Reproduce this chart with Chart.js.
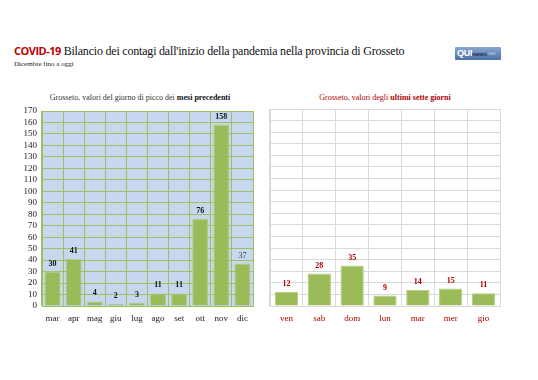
<!DOCTYPE html>
<html lang="it">
<head>
<meta charset="UTF-8">
<title>COVID-19 Grosseto</title>
<script src="https://cdn.jsdelivr.net/npm/chart.js"></script>
<style>
  body { margin:0; width:538px; height:380px; background:#fff; position:relative; overflow:hidden; font-family:"Liberation Serif", serif; }
  .abs { position:absolute; }
  #title { left:14px; top:43px; font-size:12px; letter-spacing:-0.2px; white-space:nowrap; color:#111; }
  #title b { font-family:"Open Sans", "Liberation Sans", sans-serif; font-size:11px; letter-spacing:-0.5px; color:#c00000; font-weight:700; }
  #sub { left:14px; top:60px; font-size:7px; color:#222; }
  #logo { left:455px; top:47px; width:46px; height:13px; background:linear-gradient(#8aa7d2,#4d70a8); border-radius:1px; font-family:"Liberation Sans",sans-serif; color:#fff; white-space:nowrap; overflow:hidden; display:flex; align-items:center; }
  #logo span { line-height:1; }
  #logo .q { font-weight:bold; font-size:9px; padding-left:2px; letter-spacing:-0.3px; }
  #logo .n { font-size:6px; color:#1d2f55; font-weight:bold; }
  #logo .t { font-size:5px; color:#c9d6ea; }
  .ct { font-size:8px; white-space:nowrap; }
  #t1 { left:0; width:280px; top:93px; text-align:center; color:#333; }
  #t1 b { color:#111; }
  #t2 { left:250px; width:270px; top:93px; text-align:center; color:#b00000; }
  #c1 { left:0; top:100px; }
  #c2 { left:265px; top:100px; }
</style>
</head>
<body>
<div id="title" class="abs"><b>COVID-19</b> Bilancio dei contagi dall'inizio della pandemia nella provincia di Grosseto</div>
<div id="sub" class="abs">Dicembre fino a oggi</div>
<div id="logo" class="abs"><span class="q">QUI</span><span class="n">news</span><span class="t">.net</span></div>
<div id="t1" class="abs ct">Grosseto, valori del giorno di picco dei <b>mesi precedenti</b></div>
<div id="t2" class="abs ct">Grosseto, valori degli <b>ultimi sette giorni</b></div>
<canvas id="c1" class="abs" width="265" height="240"></canvas>
<canvas id="c2" class="abs" width="273" height="240"></canvas>
<script>
// dati
const months = ['mar', 'apr', 'mag', 'giu', 'lug', 'ago', 'set', 'ott', 'nov', 'dic'];
const monthPeaks = [30, 41, 4, 2, 3, 11, 11, 76, 158, 37];
const days = ['ven', 'sab', 'dom', 'lun', 'mar', 'mer', 'gio'];
const lastWeek = [12, 28, 35, 9, 14, 15, 11];
const yMin = 0, yMax = 170, yStep = 10;

const serif = "'Liberation Serif', serif";

// etichette sopra le barre
const barLabels = {
    id: 'barLabels',
    afterDatasetsDraw(chart, args, opts) {
        const ctx = chart.ctx;
        const meta = chart.getDatasetMeta(0);
        const vals = chart.data.datasets[0].data;
        ctx.save();
        ctx.textAlign = 'center';
        ctx.textBaseline = 'middle';
        meta.data.forEach(function(bar, i) {
            const plain = opts.plain && opts.plain.includes(i);
            ctx.font = (plain ? '' : 'bold ') + '8px ' + serif;
            ctx.fillStyle = plain ? '#444' : opts.color;
            ctx.fillText(vals[i], bar.x, bar.y - 8);
        });
        ctx.restore();
    }
};

// sfondo azzurro dell'area del grafico
const plotBg = {
    id: 'plotBg',
    beforeDraw(chart, args, opts) {
        if (!opts.color) return;
        const a = chart.chartArea;
        chart.ctx.save();
        chart.ctx.fillStyle = opts.color;
        chart.ctx.fillRect(a.left, a.top, a.right - a.left, a.bottom - a.top);
        chart.ctx.restore();
    }
};

new Chart(document.getElementById('c1'), {
    type: 'bar',
    data: {
        labels: months,
        datasets: [{
            data: monthPeaks,
            backgroundColor: '#9bbb59',
            borderColor: '#b5cd85',
            borderWidth: 1,
            barPercentage: 0.76,
            categoryPercentage: 1
        }]
    },
    options: {
        responsive: false,
        animation: false,
        layout: { padding: { top: 11, right: 12, left: 0, bottom: 0 } },
        plugins: {
            legend: { display: false },
            tooltip: { enabled: false },
            barLabels: { color: '#111', plain: [9] },
            plotBg: { color: '#c6d7ef' }
        },
        scales: {
            x: {
                grid: { color: '#9fbf63', drawTicks: false },
                border: { color: '#9fbf63' },
                ticks: { color: '#222', font: { family: serif, size: 9 }, padding: 7, maxRotation: 0, autoSkip: false },
                afterFit(s) { s.height = 34; }
            },
            y: {
                min: yMin, max: yMax,
                grid: { color: '#9fbf63', drawTicks: false },
                border: { color: '#9fbf63' },
                ticks: { stepSize: yStep, autoSkip: false, color: '#222', font: { family: serif, size: 9 }, padding: 5 },
                afterFit(s) { s.width = 42; }
            }
        }
    },
    plugins: [plotBg, barLabels]
});

new Chart(document.getElementById('c2'), {
    type: 'bar',
    data: {
        labels: days,
        datasets: [{
            data: lastWeek,
            backgroundColor: '#9bbb59',
            borderColor: '#b5cd85',
            borderWidth: 1,
            barPercentage: 0.71,
            categoryPercentage: 1
        }]
    },
    options: {
        responsive: false,
        animation: false,
        layout: { padding: { top: 9, right: 38, left: 5, bottom: 0 } },
        plugins: {
            legend: { display: false },
            tooltip: { enabled: false },
            barLabels: { color: '#b00000' },
            plotBg: {}
        },
        scales: {
            x: {
                grid: { color: '#d9d9d9', drawTicks: false },
                border: { color: '#d9d9d9' },
                ticks: { color: '#b00000', font: { family: serif, size: 9 }, padding: 7, maxRotation: 0, autoSkip: false },
                afterFit(s) { s.height = 34; }
            },
            y: {
                min: yMin, max: yMax,
                grid: { color: '#d9d9d9', drawTicks: false },
                border: { color: '#d9d9d9' },
                ticks: { stepSize: yStep, display: false, autoSkip: false },
                afterFit(s) { s.width = 0; }
            }
        }
    },
    plugins: [plotBg, barLabels]
});
</script>
</body>
</html>
